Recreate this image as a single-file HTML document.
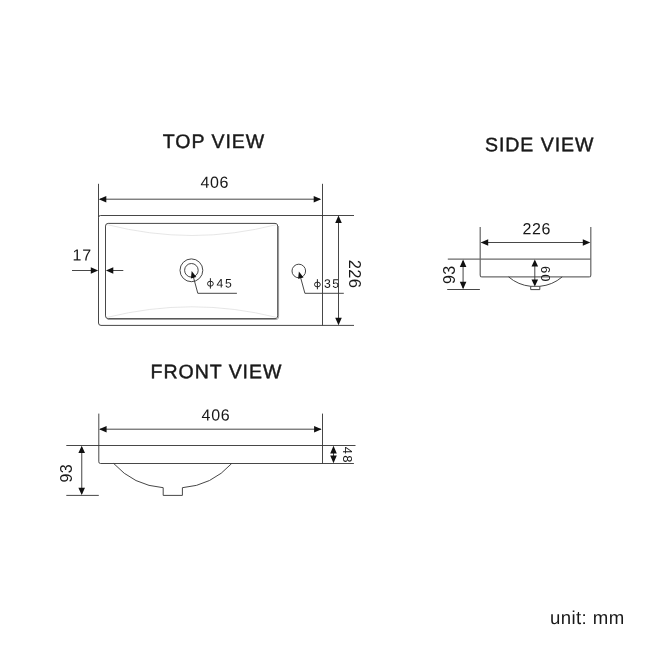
<!DOCTYPE html>
<html>
<head>
<meta charset="utf-8">
<title>Basin dimensions</title>
<style>
html,body{margin:0;padding:0;background:#fff;}
body{width:650px;height:650px;overflow:hidden;font-family:"Liberation Sans",sans-serif;}
svg{display:block;position:absolute;left:0;top:0;will-change:transform;}
text{font-family:"Liberation Sans",sans-serif;fill:#181818;}
.ln{stroke:#363636;stroke-width:0.92;fill:none;}
.lg{stroke:#6a6a6a;stroke-width:1.25;fill:none;}
.ph{stroke:#222;stroke-width:1;fill:none;}
.lt{stroke:#e0e0e0;stroke-width:0.8;fill:none;}
.ar{fill:#111;stroke:none;}
.ttl{font-size:19.5px;letter-spacing:0.97px;stroke:#1c1c1c;stroke-width:0.45px;}
.dim{font-size:16px;letter-spacing:0.65px;}
.sm{font-size:12.2px;letter-spacing:1.5px;}
.sm2{font-size:13px;letter-spacing:0.9px;}
</style>
</head>
<body>
<svg width="650" height="650" viewBox="0 0 650 650">
<rect width="650" height="650" fill="#fff"/>

<!-- ================= TOP VIEW ================= -->
<text class="ttl" transform="translate(162.8 148) rotate(0.03)">TOP VIEW</text>
<text class="dim" transform="translate(200.4 187.7) rotate(0.03)">406</text>
<!-- ext lines -->
<path class="ln" d="M98.5 183.8V217.5 M322.5 183.8V217"/>
<!-- dim line -->
<path class="ln" d="M100 199.2H320"/>
<path class="ar" d="M98.8 199.2l7.5 -3.3v6.6z M321.2 199.2l-7.5 -3.3v6.6z"/>
<!-- outer rect -->
<path class="ln" d="M98.5 217.5Q98.5 215.5 100.5 215.5H354 M98.5 217.5V323Q98.5 325.4 101 325.4H354 M322.5 215.5V325.4"/>
<!-- inner rect -->
<path d="M107.5 319.5H276Q278.6 319.5 278.6 317V226" style="stroke:#a8a8a8;stroke-width:1;fill:none"/>
<rect class="ln" x="105.5" y="223.4" width="172.2" height="95.2" rx="2.7" ry="2.7"/>
<!-- light curves -->
<path class="lt" d="M107 224.6Q150 235.5 192 235.5Q234 235.5 276.6 224.6"/>
<path class="lt" d="M107 317.4Q150 306.8 192 306.8Q234 306.8 276.6 317.4"/>
<!-- 226 vertical dim -->
<path class="ln" d="M338.5 217V324"/>
<path class="ar" d="M338.5 215.5l-3.3 7.5h6.6z M338.5 325.2l-3.3 -7.5h6.6z"/>
<text class="dim" style="font-size:16.5px;letter-spacing:0.3px" transform="translate(348.5 259.8) rotate(90)">226</text>
<!-- 17 dim -->
<text class="dim" transform="translate(72.6 260.6) rotate(0.03)">17</text>
<path class="ln" d="M72 270.5H92 M112 270.5H123.3"/>
<path class="ar" d="M98.2 270.5l-7.4 -3.2v6.4z M105.9 270.5l7.4 -3.2v6.4z"/>
<!-- drain -->
<circle class="ln" cx="191.4" cy="270.3" r="11.4"/>
<circle class="ln" cx="191.4" cy="270.3" r="6.8"/>
<path class="ln" d="M193.4 277L197.8 293.3H236.9"/>
<path class="ar" d="M191.7 270.9L196.3 276.9L190.9 278.4z"/>
<ellipse class="ph" cx="210.4" cy="283.7" rx="2.9" ry="2.5"/><path class="ph" d="M210.4 278.2V288.6"/>
<text class="sm" transform="translate(216.6 287.4) rotate(0.03)">45</text>
<!-- tap hole -->
<circle class="ln" cx="298.8" cy="271" r="6.8"/>
<path class="ln" d="M300.6 277.5L304.9 293.3H343.8"/>
<path class="ar" d="M298.9 271.4L303.5 277.4L298.1 278.8z"/>
<ellipse class="ph" cx="317.4" cy="284.5" rx="2.9" ry="2.4"/><path class="ph" d="M317.4 279.2V289.3"/>
<text class="sm" transform="translate(324 287.8) rotate(0.03)">35</text>

<!-- ================= SIDE VIEW ================= -->
<text class="ttl" transform="translate(484.9 151.2) rotate(0.03)">SIDE VIEW</text>
<text class="dim" transform="translate(522.5 234.2) rotate(0.03)">226</text>
<path class="lg" d="M480.2 227V275 M590.8 227V275"/>
<path class="ln" d="M481.5 242.5H589"/>
<path class="ar" d="M480.7 242.5l7.5 -3.3v6.6z M590.3 242.5l-7.5 -3.3v6.6z"/>
<path class="lg" d="M447.8 259.2H590.8"/>
<path class="lg" d="M480.2 275Q480.2 276.9 481.8 276.9 M589.3 276.9Q590.8 276.9 590.8 275"/>
<path class="lg" d="M481.8 276.9H589.3"/>
<path class="ln" d="M508.6 276.9A40 40 0 0 0 530.7 286.3V289.6H539.8V286.3A40 40 0 0 0 562.2 276.9 M530.7 286.3H539.8"/>
<!-- 93 -->
<path class="ln" d="M447.2 289.5H479.9"/>
<path class="lg" d="M463.1 261V288"/>
<path class="ar" d="M463.1 259.5l-3.3 7.4h6.6z M463.1 289.2l-3.3 -7.4h6.6z"/>
<text class="dim" style="letter-spacing:0.4px" transform="translate(455 284) rotate(-90)">93</text>
<!-- 60 -->
<path class="ln" d="M534.8 261V285"/>
<path class="ar" d="M534.8 259.6l-3.3 7h6.6z M534.8 286.4l-3.3 -7h6.6z"/>
<text class="sm2" transform="translate(540.6 266) rotate(90)">60</text>

<!-- ================= FRONT VIEW ================= -->
<text class="ttl" transform="translate(150.6 378.3) rotate(0.03)">FRONT VIEW</text>
<text class="dim" transform="translate(201.6 420.4) rotate(0.03)">406</text>
<path class="ln" d="M98.8 413.6V461.8 M322.5 413.6V463.5"/>
<path class="ln" d="M100 429.2H321"/>
<path class="ar" d="M99.1 429.2l7.5 -3.3v6.6z M321.6 429.2l-7.5 -3.3v6.6z"/>
<path class="ln" d="M66.3 445.5H355.5"/>
<path class="ln" d="M98.8 461.8Q98.8 463.5 100.5 463.5H353.9"/>
<path class="ln" d="M113.7 463.5A74 74 0 0 0 163.2 487.7V495.4H182.4V487.7A74 74 0 0 0 231.7 463.5"/>
<!-- 93 -->
<path class="ln" d="M66.3 495.4H98.8"/>
<path class="lg" d="M81.7 447.5V493.5"/>
<path class="ar" d="M81.7 445.7l-3.3 7.4h6.6z M81.7 495.1l-3.3 -7.4h6.6z"/>
<text class="dim" style="letter-spacing:0.5px" transform="translate(72.2 482.6) rotate(-90)">93</text>
<!-- 48 -->
<path class="ln" d="M333.5 447V462"/>
<path class="ar" d="M333.5 445.7l-3.3 7.8h6.6z M333.5 463.2l-3.3 -7.6h6.6z"/>
<text class="sm2" style="letter-spacing:1.1px" transform="translate(342.6 446.8) rotate(90)">48</text>

<!-- unit -->
<text transform="translate(549.9 624) rotate(0.03)" style="font-size:18.6px;letter-spacing:0.42px">unit: mm</text>
</svg>
</body>
</html>
